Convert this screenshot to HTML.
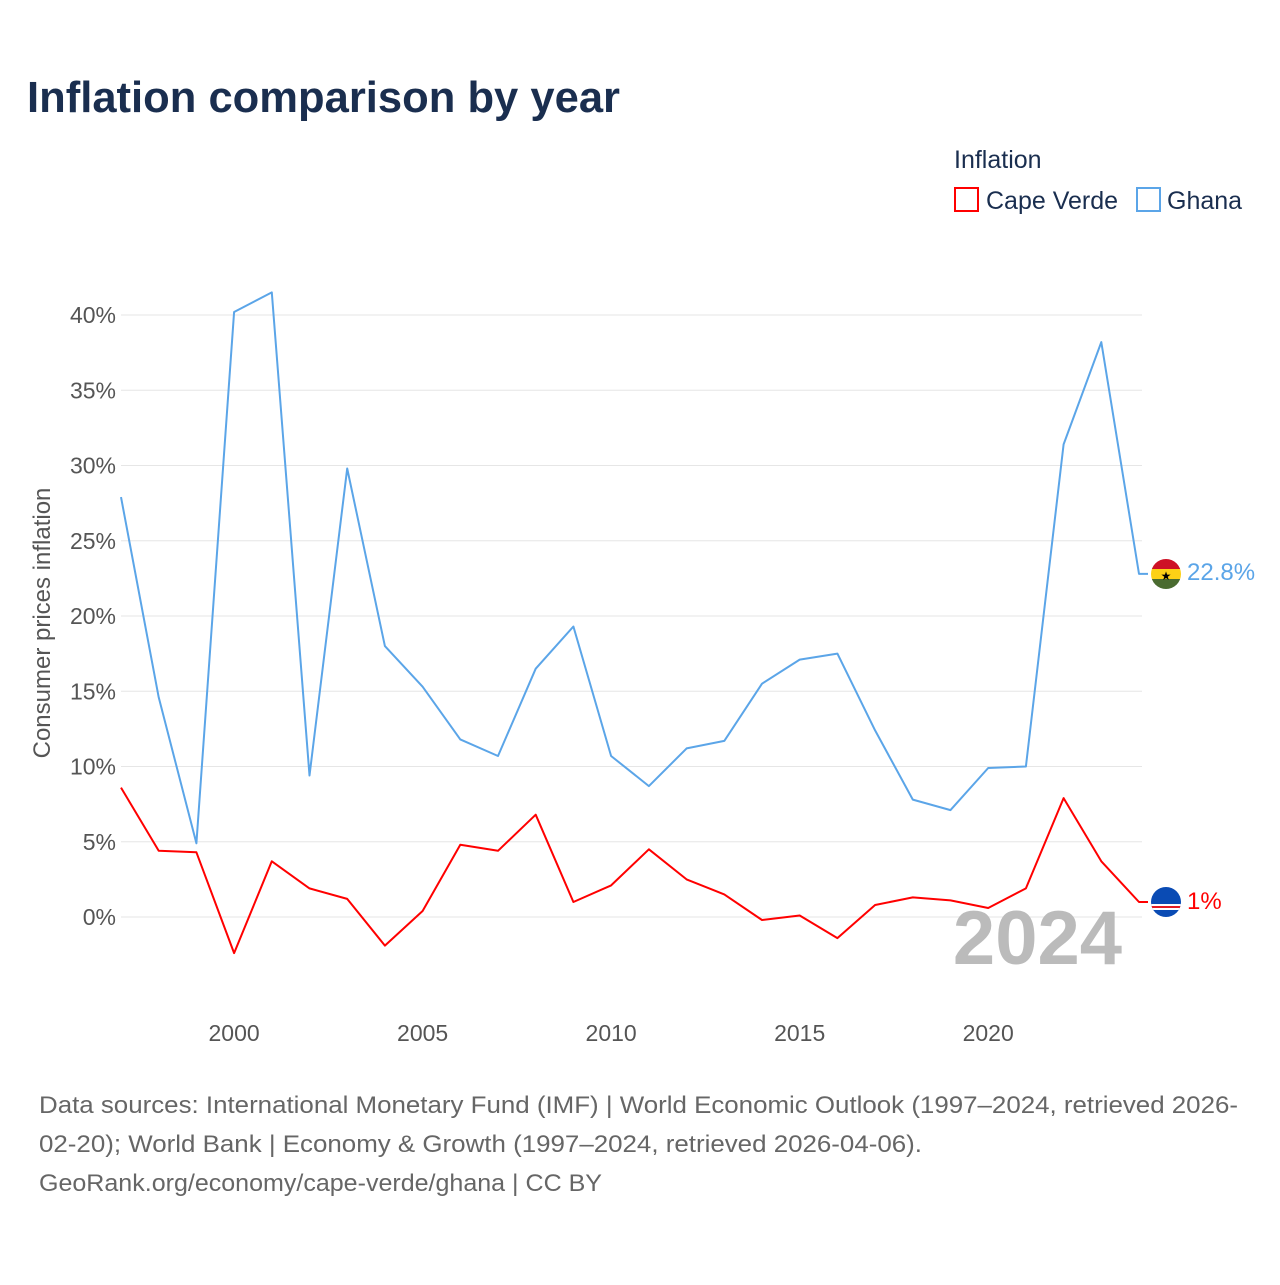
<!DOCTYPE html>
<html><head><meta charset="utf-8"><style>
body{margin:0;background:#fff;font-family:"Liberation Sans",sans-serif;}
</style></head><body>
<svg width="1280" height="1280" xmlns="http://www.w3.org/2000/svg" style="font-family:'Liberation Sans',sans-serif">
<text x="27" y="112" font-size="44" font-weight="bold" fill="#1a2e4f" textLength="593" lengthAdjust="spacingAndGlyphs">Inflation comparison by year</text>
<text x="954" y="168" font-size="25" fill="#1a2e4f">Inflation</text>
<g><rect x="955" y="188" width="23" height="23" fill="none" stroke="#f00" stroke-width="2"/><text x="986" y="209" font-size="25" fill="#1a2e4f">Cape Verde</text></g>
<g><rect x="1137" y="188" width="23" height="23" fill="none" stroke="#5ba5e8" stroke-width="2"/><text x="1167" y="209" font-size="25" fill="#1a2e4f">Ghana</text></g>
<g id="grid"></g>
<g id="yt"></g>
<g id="xt"></g>
<text transform="translate(50,623) rotate(-90)" text-anchor="middle" font-size="24" fill="#555">Consumer prices inflation</text>
<text x="1122" y="964" text-anchor="end" font-size="76" font-weight="bold" fill="#bbb">2024</text>
<g id="lines"></g>
<g>
<clipPath id="c1"><circle cx="1166" cy="574" r="15"/></clipPath>
<g clip-path="url(#c1)"><rect x="1150" y="558" width="32" height="11" fill="#ce1126"/><rect x="1150" y="569" width="32" height="10" fill="#fcd116"/><rect x="1150" y="579" width="32" height="11" fill="#4a6b30"/></g>
<text x="1166" y="580" text-anchor="middle" font-size="12" fill="#000">★</text></g>
<g>
<clipPath id="c2"><circle cx="1166" cy="902" r="15"/></clipPath>
<g clip-path="url(#c2)"><rect x="1150" y="886" width="32" height="32" fill="#0a4bb4"/><rect x="1150" y="904" width="32" height="6" fill="#fff"/><rect x="1150" y="906" width="32" height="2" fill="#e31b23"/></g></g>
<text x="1187" y="580" font-size="24" fill="#5ba5e8">22.8%</text>
<text x="1187" y="909" font-size="24" fill="#f00">1%</text>
<g font-size="24" fill="#666">
<text x="39" y="1113" textLength="1199" lengthAdjust="spacingAndGlyphs">Data sources: International Monetary Fund (IMF) | World Economic Outlook (1997–2024, retrieved 2026-</text>
<text x="39" y="1152" textLength="883" lengthAdjust="spacingAndGlyphs">02-20); World Bank | Economy &amp; Growth (1997–2024, retrieved 2026-04-06).</text>
<text x="39" y="1191" textLength="563" lengthAdjust="spacingAndGlyphs">GeoRank.org/economy/cape-verde/ghana | CC BY</text></g>
</svg>
<script>
const years=[1997,1998,1999,2000,2001,2002,2003,2004,2005,2006,2007,2008,2009,2010,2011,2012,2013,2014,2015,2016,2017,2018,2019,2020,2021,2022,2023,2024];
const ghana=[27.9,14.6,4.9,40.2,41.5,9.4,29.8,18.0,15.3,11.8,10.7,16.5,19.3,10.7,8.7,11.2,11.7,15.5,17.1,17.5,12.4,7.8,7.1,9.9,10.0,31.4,38.2,22.8];
const capeVerde=[8.6,4.4,4.3,-2.4,3.7,1.9,1.2,-1.9,0.4,4.8,4.4,6.8,1.0,2.1,4.5,2.5,1.5,-0.2,0.1,-1.4,0.8,1.3,1.1,0.6,1.9,7.9,3.7,1.0];
const yTicks=[0,5,10,15,20,25,30,35,40];
const xTicks=[2000,2005,2010,2015,2020];
const NS="http://www.w3.org/2000/svg";
const x=v=>121+(v-1997)*(1139-121)/27;
const y=v=>917-v*15.05;
function mk(t,a,p){const e=document.createElementNS(NS,t);for(const k in a)e.setAttribute(k,a[k]);p.appendChild(e);return e;}
const grid=document.getElementById('grid'),yt=document.getElementById('yt'),xt=document.getElementById('xt'),lines=document.getElementById('lines');
yTicks.forEach(v=>{
const l=mk('line',{x1:121,x2:1142,y1:y(v),y2:y(v),stroke:'#e6e6e6','stroke-width':1},grid);


const t=mk('text',{x:116,y:y(v)+8,'text-anchor':'end','font-size':23,fill:'#555'},yt);
t.textContent=v+'%';


});
xTicks.forEach(v=>{
const t=mk('text',{x:x(v),y:1041,'text-anchor':'middle','font-size':23,fill:'#555'},xt);
t.textContent=v;


});
function line(d,c,n){
let p=d.map((v,i)=>(i?'L':'M')+x(years[i]).toFixed(1)+' '+y(v).toFixed(1)).join(' ');
p+=' H'+(x(years[years.length-1])+9);
const e=mk('path',{d:p,fill:'none',stroke:c,'stroke-width':2,'stroke-linejoin':'round'},lines);


}
line(ghana,'#5ba5e8','ghana-line');
line(capeVerde,'#f00','cape-verde-line');
</script>
</body></html>
